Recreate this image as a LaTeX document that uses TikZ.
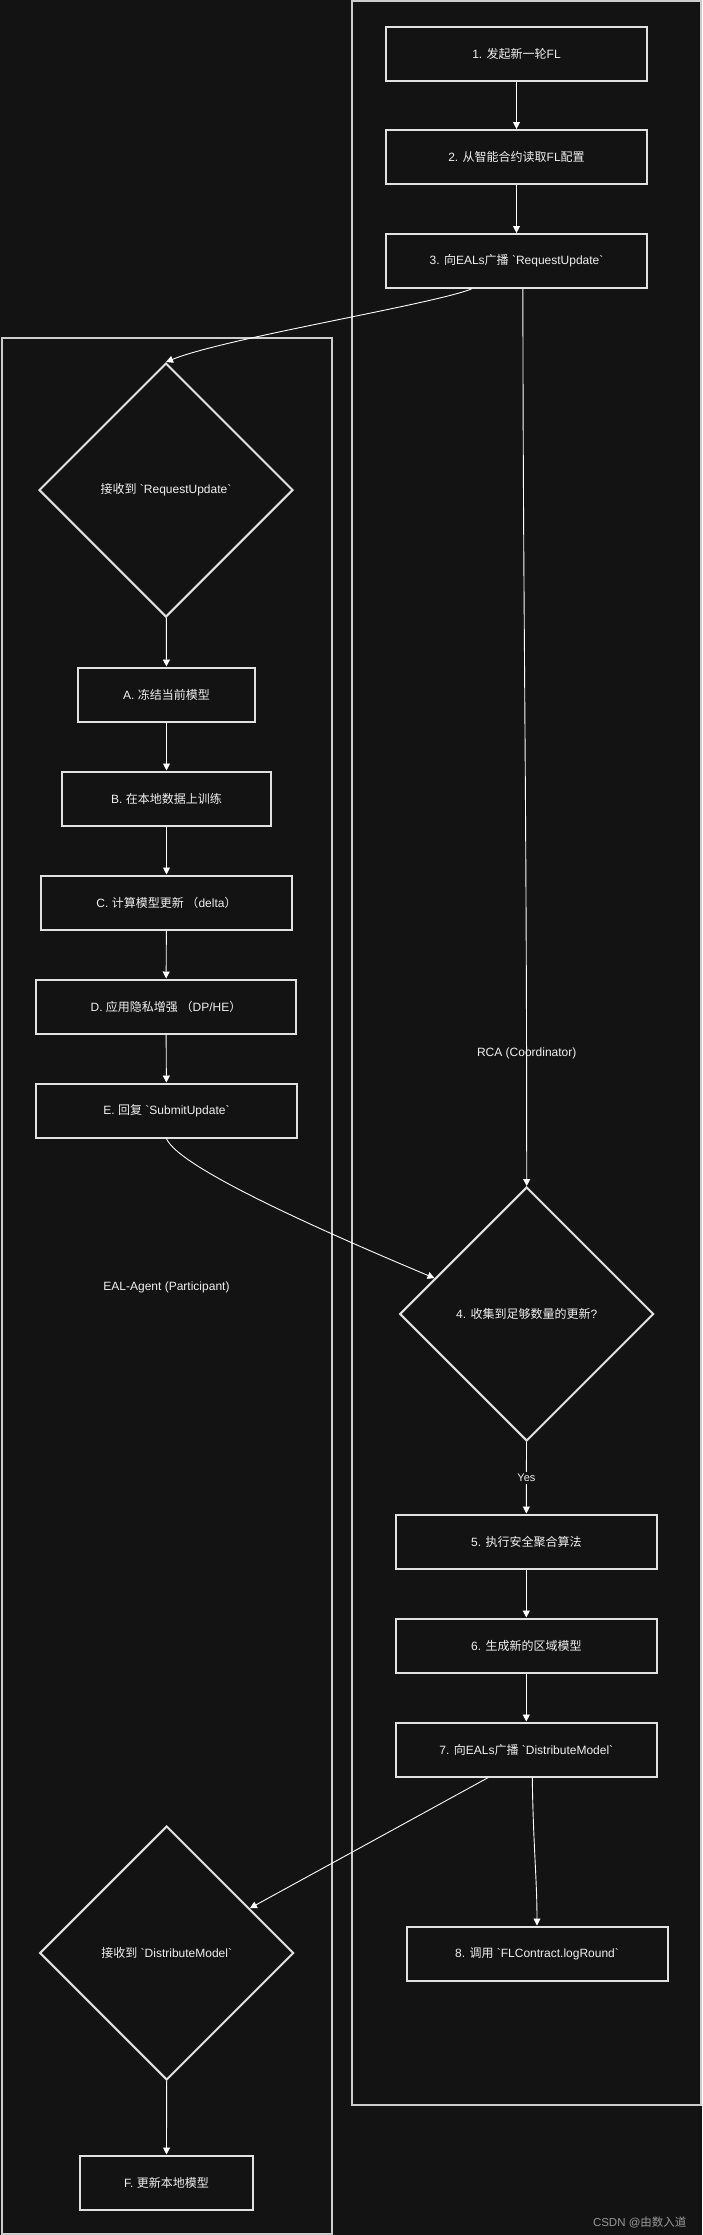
\documentclass[tikz,border=0pt]{standalone}
\usepackage{fontspec}
\setmainfont{Liberation Sans}[Ligatures=TeXOff]
\newfontfamily\zh{Noto Sans CJK SC}[Ligatures=TeXOff]
\usetikzlibrary{shapes.geometric,arrows.meta,calc}
\definecolor{bg}{RGB}{19,19,19}
\definecolor{fg}{RGB}{240,240,240}
\definecolor{edge}{RGB}{225,225,225}
\definecolor{clus}{RGB}{205,205,205}
\newcommand\bq{\symbol{96}}
\begin{document}
\begin{tikzpicture}[x=1pt,y=-1pt,
  box/.style={draw=edge, line width=2pt, fill=bg, text=fg, minimum height=54pt, inner sep=0pt, font=\fontsize{12}{14}\selectfont},
  dia/.style={box, diamond, aspect=1, minimum width=254pt, minimum height=254pt},
  link/.style={draw=white, line width=0.9pt, -{Triangle[length=7pt,width=7pt]}},
  cluster/.style={draw=clus, line width=1.5pt},
  clabel/.style={text=fg, font=\fontsize{12}{14}\selectfont},
]
\useasboundingbox (0,0) rectangle (702,2235);
\fill[bg] (0,0) rectangle (702,2235);

% clusters
\draw[cluster] (352,1) rectangle (701,2105);
\draw[cluster] (2,338) rectangle (332,2234);
\node[clabel] (rcalabel) at (526.7,1053) {RCA (Coordinator)};
\node[clabel] (eallabel) at (166.5,1287) {EAL-Agent (Participant)};

% RCA nodes
\node[box, minimum width=261pt] (b1) at (516.5,53.5) {1. {\zh 发起新一轮}FL};
\node[box, minimum width=261pt] (b2) at (516.5,157) {2. {\zh 从智能合约读取}FL{\zh 配置}};
\node[box, minimum width=261pt] (b3) at (516.5,261) {3. {\zh 向}EALs{\zh 广播} \bq RequestUpdate\bq};
\node[dia] (d4) at (526.7,1314) {4. {\zh 收集到足够数量的更新}?};
\node[box, minimum width=261pt] (b5) at (526.3,1541.5) {5. {\zh 执行安全聚合算法}};
\node[box, minimum width=261pt] (b6) at (526.3,1645.5) {6. {\zh 生成新的区域模型}};
\node[box, minimum width=261pt] (b7) at (526.3,1749.5) {7. {\zh 向}EALs{\zh 广播} \bq DistributeModel\bq};
\node[box, minimum width=261pt] (b8) at (537,1953.5) {8. {\zh 调用} \bq FLContract.logRound\bq};

% EAL nodes
\node[dia] (d1) at (166,490) {{\zh 接收到} \bq RequestUpdate\bq};
\node[box, minimum width=177pt] (bA) at (166.5,694.5) {A. {\zh 冻结当前模型}};
\node[box, minimum width=209pt] (bB) at (166.5,798.5) {B. {\zh 在本地数据上训练}};
\node[box, minimum width=251pt] (bC) at (166.5,902.5) {C. {\zh 计算模型更新 （}delta{\zh ）}};
\node[box, minimum width=260pt] (bD) at (166,1006.5) {D. {\zh 应用隐私增强 （}DP/HE{\zh ）}};
\node[box, minimum width=261pt] (bE) at (166.5,1110.5) {E. {\zh 回复} \bq SubmitUpdate\bq};
\node[dia] (d2) at (166.7,1953) {{\zh 接收到} \bq DistributeModel\bq};
\node[box, minimum width=173pt] (bF) at (166.5,2182.5) {F. {\zh 更新本地模型}};

% connectors
\draw[link] (b1) -- (b2);
\draw[link] (b2) -- (b3);
\draw[link] ([xshift=-45pt]b3.south) .. controls (430,305) and (225,338) .. (d1.north);
\draw[link] ([xshift=6.4pt]b3.south) .. controls (523,600) and (526.7,800) .. (d4.north);
\draw[link] (d1) -- (bA);
\draw[link] (bA) -- (bB);
\draw[link] (bB) -- (bC);
\draw[link] (bC) -- (bD);
\draw[link] (bD) -- (bE);
\draw[link] (bE.south) .. controls (175,1160) and (260,1205) .. ($(d4.west)!0.28!(d4.north)$);
\draw[link] (d4) -- node[fill=bg, text=fg, inner sep=2pt, font=\fontsize{11}{13}\selectfont] (yes) {Yes} (b5);
\draw[link] (b5) -- (b6);
\draw[link] (b6) -- (b7);
\draw[link] ([xshift=-38pt]b7.south) -- ($(d2.east)!0.35!(d2.north)$);
\draw[link] ([xshift=6pt]b7.south) .. controls (533,1840) and (537,1880) .. (b8.north);
\draw[link] (d2) -- (bF);

% watermark
\node[anchor=east, text=gray!80, font=\fontsize{11.5}{13}\selectfont] (wm) at (690,2222) {CSDN @{\zh 由数入道}};
\end{tikzpicture}
\end{document}
